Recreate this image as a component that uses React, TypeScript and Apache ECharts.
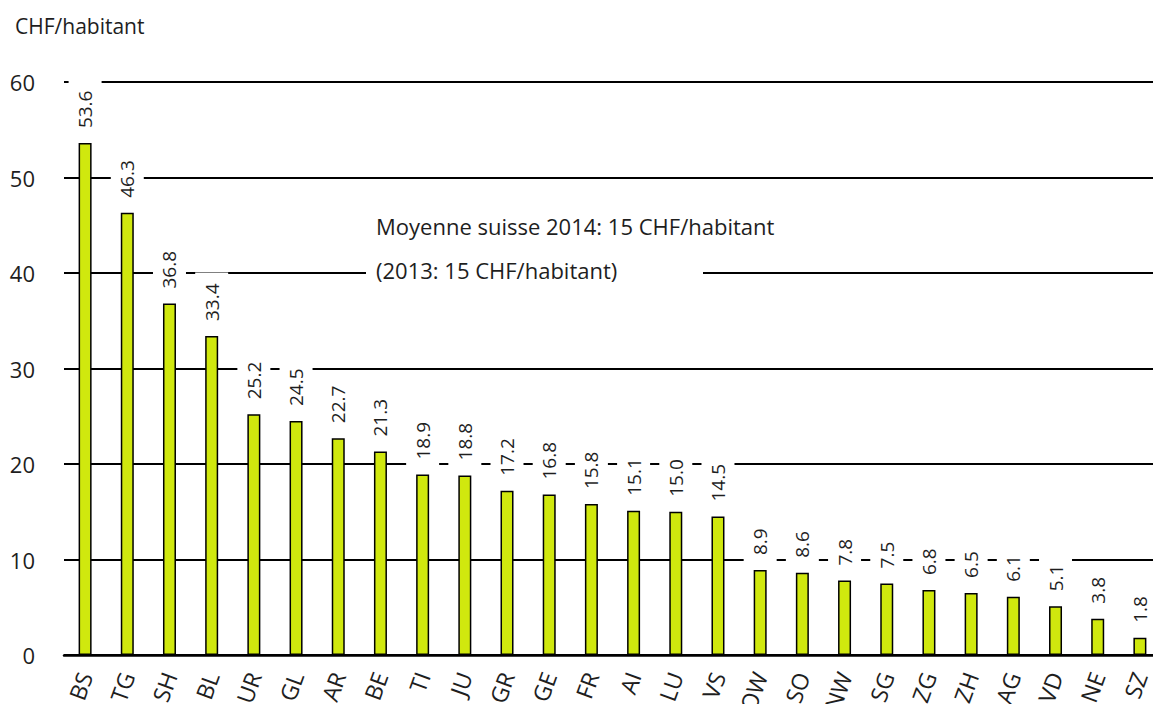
import React, { useEffect, useRef } from "react";
import * as echarts from "echarts";

const cantons = ["BS","TG","SH","BL","UR","GL","AR","BE","TI","JU","GR","GE","FR","AI","LU","VS","OW","SO","NW","SG","ZG","ZH","AG","VD","NE","SZ"];
const values = [53.6,46.3,36.8,33.4,25.2,24.5,22.7,21.3,18.9,18.8,17.2,16.8,15.8,15.1,15.0,14.5,8.9,8.6,7.8,7.5,6.8,6.5,6.1,5.1,3.8,1.8];
const yTicks = [0, 10, 20, 30, 40, 50, 60];
const unitLabel = "CHF/habitant";
const noteLine1 = "Moyenne suisse 2014: 15 CHF/habitant";
const noteLine2 = "(2013: 15 CHF/habitant)";

const FONT = "'Open Sans', 'Noto Sans', sans-serif";
const TXT = "#1e1e1e";

export default function App() {
  const ref = useRef<HTMLDivElement>(null);
  useEffect(() => {
    if (!ref.current) return;
    const chart = echarts.init(ref.current, undefined, { renderer: "svg" });
    chart.setOption({
      animation: false,
      backgroundColor: "#ffffff",
      textStyle: { fontFamily: FONT },
      grid: { left: 64, right: -8, top: 82, bottom: 49, containLabel: false, outerBoundsMode: "none" },
      xAxis: {
        type: "category",
        data: cantons,
        axisLine: { lineStyle: { color: "#000", width: 2.5 } },
        axisTick: { show: false },
        axisLabel: { rotate: 70, fontSize: 23, color: TXT, margin: 18, fontFamily: FONT },
      },
      yAxis: {
        type: "value",
        min: yTicks[0],
        max: yTicks[yTicks.length - 1],
        interval: 10,
        axisLine: { show: false },
        axisTick: { show: false },
        axisLabel: { fontSize: 22, color: TXT, margin: 29, fontFamily: FONT },
        splitLine: { lineStyle: { color: "#000", width: 2 } },
      },
      series: [
        {
          type: "bar",
          data: values,
          barWidth: 13,
          itemStyle: { color: "#d0e80e", borderColor: "#000", borderWidth: 1.5 },
          label: {
            show: true,
            position: "top",
            rotate: 90,
            align: "left",
            verticalAlign: "middle",
            distance: 4,
            fontSize: 19,
            color: TXT,
            fontFamily: FONT,
            backgroundColor: "#ffffff",
            padding: [7, 11, 7, 11],
            formatter: (p: any) => Number(p.value).toFixed(1),
          },
        },
      ],
      graphic: [
        {
          type: "text",
          left: 15,
          top: 15,
          z: 100,
          style: { text: unitLabel, fontSize: 21, fill: TXT, fontFamily: FONT },
        },
        {
          type: "text",
          left: 376,
          top: 215,
          z: 100,
          style: { text: noteLine1, fontSize: 22, fill: TXT, fontFamily: FONT },
        },
        {
          type: "rect",
          z: 100,
          shape: { x: 366, y: 259, width: 337, height: 28 },
          style: { fill: "#ffffff" },
        },
        {
          type: "text",
          left: 376,
          top: 259,
          z: 101,
          style: { text: noteLine2, fontSize: 22, fill: TXT, fontFamily: FONT },
        },
      ],
    });
    return () => chart.dispose();
  }, []);
  return (
    <div
      ref={ref}
      style={{ position: "absolute", left: 0, top: 0, width: 1153, height: 704, overflow: "hidden" }}
    />
  );
}
